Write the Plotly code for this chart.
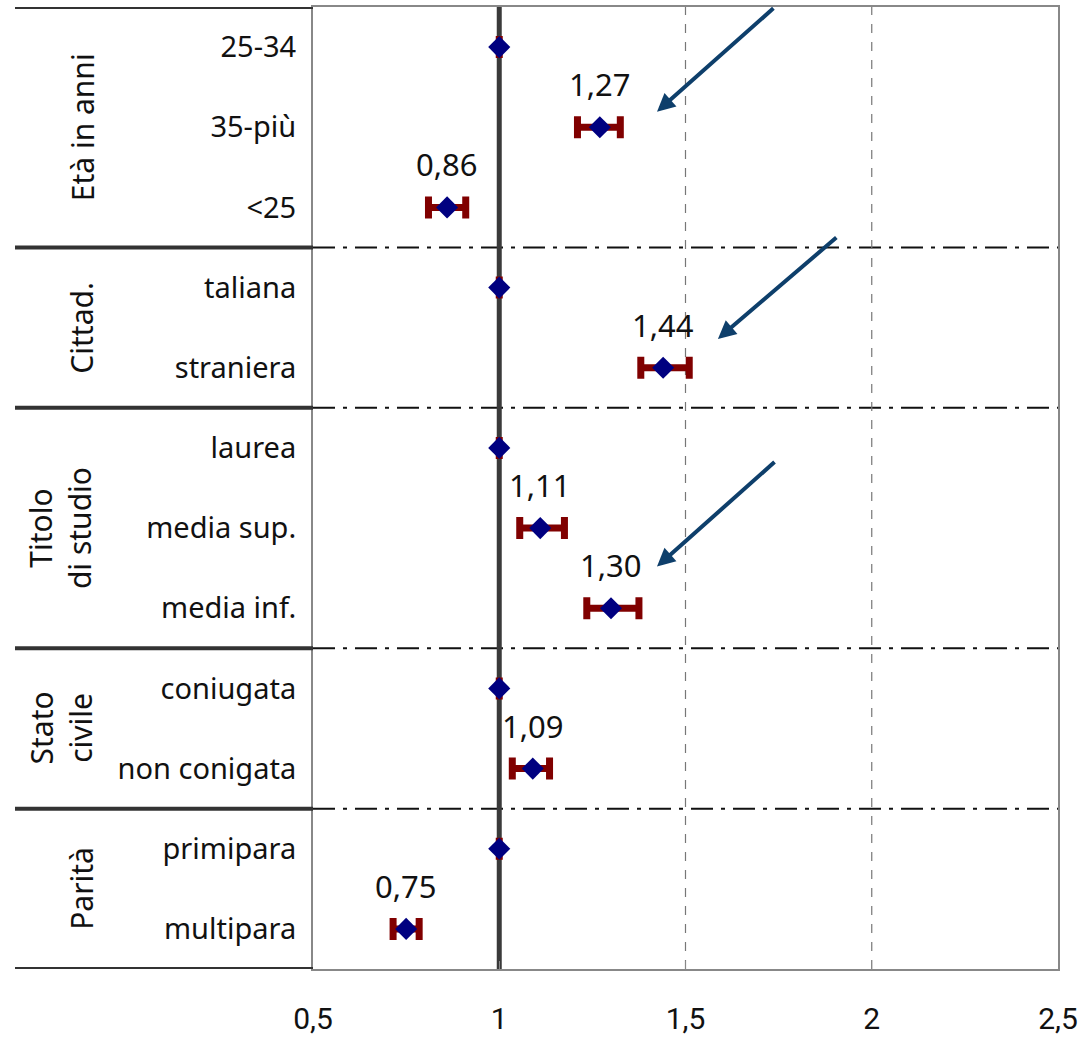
import plotly.graph_objects as go

categories = ["25-34", "35-più", "<25", "taliana", "straniera", "laurea",
              "media sup.", "media inf.", "coniugata", "non conigata",
              "primipara", "multipara"]
odds = [1.0, 1.27, 0.86, 1.0, 1.44, 1.0, 1.11, 1.30, 1.0, 1.09, 1.0, 0.75]
ci_low = [1.0, 1.21, 0.81, 1.0, 1.38, 1.0, 1.055, 1.235, 1.0, 1.035, 1.0, 0.715]
ci_high = [1.0, 1.325, 0.91, 1.0, 1.51, 1.0, 1.175, 1.375, 1.0, 1.135, 1.0, 0.785]
value_labels = ["", "1,27", "0,86", "", "1,44", "", "1,11", "1,30", "", "1,09", "", "0,75"]
groups = ["Età in anni", "Cittad.", "Titolo<br>di studio", "Stato<br>civile", "Parità"]
group_rows = [(0, 2), (3, 4), (5, 7), (8, 9), (10, 11)]
x_ticks = [0.5, 1, 1.5, 2, 2.5]
x_tick_text = ["0,5", "1", "1,5", "2", "2,5"]

rows = list(range(len(categories)))
err_plus = [h - o for h, o in zip(ci_high, odds)]
err_minus = [o - l for o, l in zip(odds, ci_low)]

fig = go.Figure()
fig.add_trace(go.Scatter(
    x=odds, y=rows, mode="markers",
    marker=dict(symbol="diamond", size=17, color="#000080"),
    error_x=dict(type="data", symmetric=False, array=err_plus, arrayminus=err_minus,
                 color="#800000", thickness=7, width=11),
    showlegend=False, cliponaxis=False,
))

label_font = "Noto Sans"
annotations = []
for i, t in enumerate(value_labels):
    if t:
        annotations.append(dict(x=odds[i], y=i, text=t, showarrow=False, yshift=43,
                                font=dict(size=31, color="#111", family=label_font)))

# arrows
arrows = [((1.740, -0.5), (1.4235, 0.806)),
          ((1.909, 2.36), (1.587, 3.64)),
          ((1.743, 5.16), (1.4235, 6.48))]
for (tx, ty), (hx, hy) in arrows:
    annotations.append(dict(x=hx, y=hy, ax=tx, ay=ty, xref="x", yref="y", axref="x", ayref="y",
                            showarrow=True, arrowhead=2, arrowsize=0.9, arrowwidth=4,
                            arrowcolor="#0E3F6B", text=""))

# group labels
paper_w = 1091 - 313 - 33
for g, (a, b) in zip(groups, group_rows):
    two = "<br>" in g
    xc = 60 if two else 82
    annotations.append(dict(x=(xc - 313) / paper_w, xref="paper", y=(a + b) / 2, yref="y",
                            text=g, textangle=-90, showarrow=False, xanchor="center",
                            font=dict(size=30, color="#111", family=label_font)))

shapes = []
boundaries = [-0.5, 2.5, 4.5, 7.5, 9.5, 11.5]
for yb in boundaries:
    shapes.append(dict(type="line", xref="paper", yref="y", x0=(15 - 313) / paper_w, x1=0,
                       y0=yb, y1=yb, line=dict(color="#333", width=4), layer="above"))
for yb in boundaries[1:-1]:
    shapes.append(dict(type="line", xref="paper", yref="y", x0=0, x1=1, y0=yb, y1=yb,
                       line=dict(color="#111", width=2, dash="22px,8px,4px,8px"), layer="below"))
for xv in [1.5, 2.0]:
    shapes.append(dict(type="line", xref="x", yref="paper", x0=xv, x1=xv, y0=0, y1=1,
                       line=dict(color="#777", width=1.2, dash="dash"), layer="below"))
shapes.append(dict(type="line", xref="x", yref="paper", x0=1, x1=1, y0=0, y1=1,
                   line=dict(color="#3a3a3a", width=5), layer="below"))

fig.update_layout(
    width=1091, height=1041,
    margin=dict(l=313, r=33, t=5, b=67),
    plot_bgcolor="white", paper_bgcolor="white",
    annotations=annotations, shapes=shapes,
    xaxis=dict(range=[0.5, 2.5], tickvals=x_ticks, ticktext=x_tick_text,
               showgrid=False, zeroline=False, showline=True, linecolor="#888", linewidth=2,
               mirror=True, ticks="inside", ticklen=8, tickcolor="#888",
               tickfont=dict(size=30, color="#111", family="Roboto"),
               ticklabelstandoff=22),
    yaxis=dict(range=[11.5, -0.5], tickvals=rows, ticktext=categories,
               showgrid=False, zeroline=False, showline=True, linecolor="#888", linewidth=2,
               mirror=True, ticks="",
               tickfont=dict(size=29, color="#111", family=label_font),
               ticklabelstandoff=9),
)

fig.write_html("out.html")
